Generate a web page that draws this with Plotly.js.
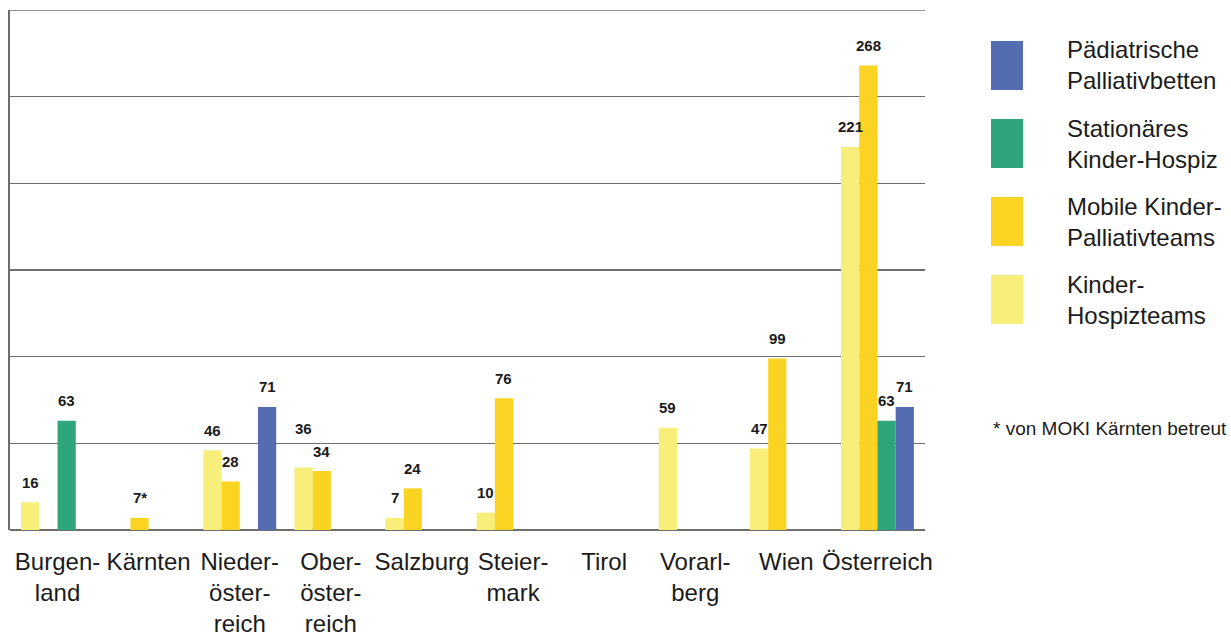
<!DOCTYPE html>
<html>
<head>
<meta charset="utf-8">
<script src="https://cdn.plot.ly/plotly-3.0.1.min.js"></script>
<style>
  html, body { margin: 0; padding: 0; background: #ffffff; }
  #chart { width: 1231px; height: 638px; }
</style>
</head>
<body>
<div id="chart"></div>
<script>
// Bundesländer und Österreich gesamt
const categories = ["Burgenland", "Kärnten", "Niederösterreich", "Oberösterreich", "Salzburg",
                    "Steiermark", "Tirol", "Vorarlberg", "Wien", "Österreich"];
const tickLabels = ["Burgen-<br>land", "Kärnten", "Nieder-<br>öster-<br>reich", "Ober-<br>öster-<br>reich",
                    "Salzburg", "Steier-<br>mark", "Tirol", "Vorarl-<br>berg", "Wien", "Österreich"];

// Anzahl je Versorgungsangebot (null = kein Angebot)
const hospizteams   = [16, null, 46, 36, 7, 10, null, 59, 47, 221];
const mobileTeams   = [null, 7, 28, 34, 24, 76, null, null, 99, 268];
const stationaer    = [63, null, null, null, null, null, null, null, null, 63];
const palliativBett = [null, null, 71, null, null, null, null, null, null, 71];

// Beschriftungen mit Fußnotenzeichen
const mobileLabels = mobileTeams.map((v, i) => v === null ? null : (categories[i] === "Kärnten" ? v + "*" : String(v)));

const seriesNames = ["Kinder-Hospizteams", "Mobile Kinder-Palliativteams", "Stationäres Kinder-Hospiz", "Pädiatrische Palliativbetten"];
const legendLabels = ["Kinder-<br>Hospizteams", "Mobile Kinder-<br>Palliativteams", "Stationäres<br>Kinder-Hospiz", "Pädiatrische<br>Palliativbetten"];
const colors = ["#f8ef7a", "#fbd322", "#2ea57a", "#546cb0"];
const footnote = "* von MOKI Kärnten betreut";

const FONT = "'Liberation Sans', Arial, sans-serif";
const TEXT = "#1b1b1b";
const GRID = "#6e6e6e";

const seriesValues = [hospizteams, mobileTeams, stationaer, palliativBett];
const seriesLabels = [
  hospizteams.map(v => v === null ? null : String(v)),
  mobileLabels,
  stationaer.map(v => v === null ? null : String(v)),
  palliativBett.map(v => v === null ? null : String(v))
];

const bargap = 0.2;
const nSeries = seriesValues.length;
const barWidth = (1 - bargap) / nSeries;

const traces = seriesValues.map((vals, k) => ({
  type: "bar",
  name: seriesNames[k],
  x: categories,
  y: vals,
  marker: { color: colors[k], line: { width: 0 } },
  showlegend: false,
  hoverinfo: "x+y+name"
}));

// Zusätzlicher Abstand für Beschriftungen, die sich sonst überlappen würden
const extraLift = { "Oberösterreich|0": 19 };

// Wertbeschriftungen über den Balken
const annotations = [];
seriesValues.forEach((vals, k) => {
  const offset = -(1 - bargap) / 2 + barWidth * (k + 0.5);
  vals.forEach((v, i) => {
    if (v === null) return;
    annotations.push({
      xref: "x", yref: "y", x: i + offset, y: v,
      text: "<b>" + seriesLabels[k][i] + "</b>",
      showarrow: false, yshift: 20 + (extraLift[categories[i] + "|" + k] || 0),
      xanchor: "center", yanchor: "middle",
      font: { family: FONT, size: 15, color: TEXT }
    });
  });
});

// Plotbereich in Pixeln (für die Legende rechts)
const plotLeft = 10, plotRight = 925, plotTop = 10, plotBottom = 530;
const px = x => (x - plotLeft) / (plotRight - plotLeft);
const py = y => (plotBottom - y) / (plotBottom - plotTop);

const shapes = [
  // oberste Rasterlinie
  { type: "line", xref: "paper", yref: "y", x0: 0, x1: 1, y0: 300, y1: 300,
    line: { color: GRID, width: 1.5 } }
];
const legendOrder = [3, 2, 1, 0];
legendOrder.forEach((k, j) => {
  const top = 41 + j * 78;
  shapes.push({
    type: "rect", xref: "paper", yref: "paper",
    x0: px(991), x1: px(1023), y0: py(top + 49), y1: py(top),
    fillcolor: colors[k], line: { width: 0 }
  });
  annotations.push({
    xref: "paper", yref: "paper", x: px(1065), y: py(top + 24.5),
    text: legendLabels[k], showarrow: false, xanchor: "left", yanchor: "middle", align: "left",
    font: { family: FONT, size: 24, color: TEXT }
  });
});
annotations.push({
  xref: "paper", yref: "paper", x: px(991), y: py(428),
  text: footnote, showarrow: false, xanchor: "left", yanchor: "middle",
  font: { family: FONT, size: 19, color: TEXT }
});

const layout = {
  width: 1231, height: 638,
  margin: { l: plotLeft, r: 1231 - plotRight, t: plotTop, b: 638 - plotBottom, pad: 0 },
  paper_bgcolor: "#ffffff", plot_bgcolor: "#ffffff",
  barmode: "group", bargap: bargap, bargroupgap: 0,
  font: { family: FONT, color: TEXT },
  xaxis: {
    type: "category",
    range: [-0.522, categories.length - 1 + 0.522],
    tickmode: "array", tickvals: categories, ticktext: tickLabels,
    ticks: "", showgrid: false, zeroline: false, showline: false,
    tickfont: { family: FONT, size: 24, color: TEXT },
    ticklabelstandoff: 15
  },
  yaxis: {
    range: [0, 300], dtick: 50, showticklabels: false, ticks: "",
    showgrid: true, gridcolor: GRID, gridwidth: 1.5,
    zeroline: true, zerolinecolor: GRID, zerolinewidth: 2,
    showline: true, linecolor: GRID, linewidth: 2
  },
  shapes: shapes,
  annotations: annotations,
  showlegend: false
};

Plotly.newPlot("chart", traces, layout, { displayModeBar: false, staticPlot: true });
</script>
</body>
</html>
